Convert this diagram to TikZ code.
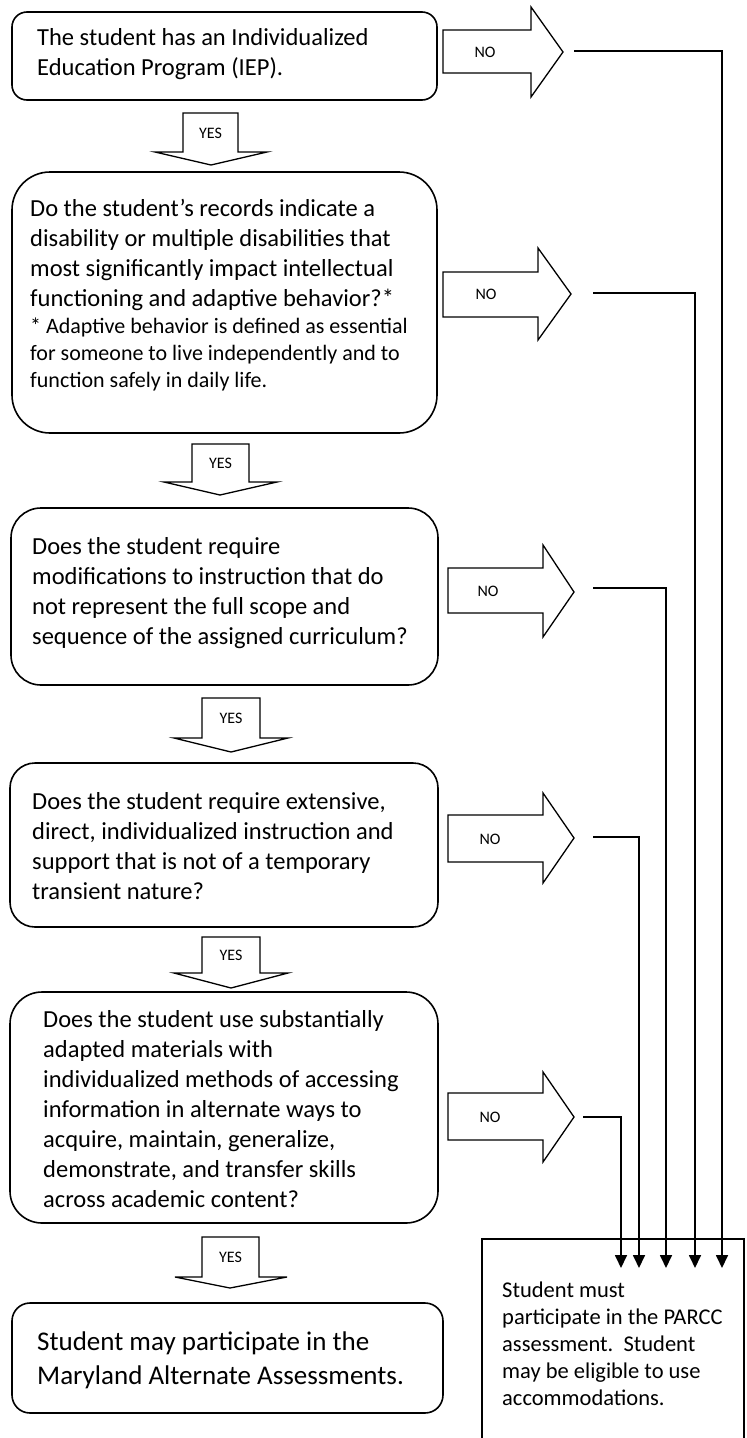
\documentclass[tikz,border=0pt]{standalone}
\usepackage{fontspec}
\setmainfont{Carlito}
\usetikzlibrary{arrows.meta}
\tikzset{
  box/.style={draw, line width=1.6pt, inner sep=0pt},
  qtext/.style={inner sep=0pt, anchor=north west, align=left, font=\fontsize{24.5}{30}\selectfont},
  fnote/.style={inner sep=0pt, anchor=north west, align=left, font=\fontsize{22}{27}\selectfont},
  fat/.style={draw, line width=1.3pt, fill=white, line join=miter},
  lab/.style={inner sep=0pt, font=\fontsize{16}{18}\selectfont},
  conn/.style={line width=1.7pt, -{Triangle[width=12pt,length=13pt]}},
}
\begin{document}
\begin{tikzpicture}[x=1pt,y=-1pt]
\useasboundingbox (0,0) rectangle (747,1438);

% question boxes
\node[box, rounded corners=15pt, minimum width=425pt, minimum height=88pt] (b1) at (224.5,56) {};
\node[box, rounded corners=38pt, minimum width=425pt, minimum height=261pt] (b2) at (224.5,302.5) {};
\node[box, rounded corners=30pt, minimum width=427pt, minimum height=177pt] (b3) at (224.5,596.5) {};
\node[box, rounded corners=25pt, minimum width=428pt, minimum height=164pt] (b4) at (224,845) {};
\node[box, rounded corners=32pt, minimum width=428pt, minimum height=231pt] (b5) at (224,1107.5) {};
\node[box, rounded corners=18pt, minimum width=431pt, minimum height=110pt] (b6) at (227.5,1358) {};
\node[box, line width=1.2pt, minimum width=262pt, minimum height=240pt] (parcc) at (613,1359) {};

% texts
\node[qtext] (t1) at (37,28) {The student has an Individualized\\Education Program (IEP).};
\node[qtext] (t2) at (30,199) {Do the student’s records indicate a\\disability or multiple disabilities that\\most significantly impact intellectual\\functioning and adaptive behavior?*};
\node[fnote] (t2f) at (30,318) {* Adaptive behavior is defined as essential\\for someone to live independently and to\\function safely in daily life.};
\node[qtext] (t3) at (32,537) {Does the student require\\modifications to instruction that do\\not represent the full scope and\\sequence of the assigned curriculum?};
\node[qtext] (t4) at (32,792) {Does the student require extensive,\\direct, individualized instruction and\\support that is not of a temporary\\transient nature?};
\node[qtext] (t5) at (43,1010) {Does the student use substantially\\adapted materials with\\individualized methods of accessing\\information in alternate ways to\\acquire, maintain, generalize,\\demonstrate, and transfer skills\\across academic content?};
\node[inner sep=0pt, anchor=north west, align=left, font=\fontsize{27}{33.5}\selectfont] (t6) at (37,1332) {Student may participate in the\\Maryland Alternate Assessments.};
\node[inner sep=0pt, anchor=north west, align=left, font=\fontsize{22.5}{27}\selectfont] (tp) at (502,1282) {Student must\\participate in the PARCC\\assessment.\ \ Student\\may be eligible to use\\accommodations.};

% NO arrows
\draw[fat] (443,30) -- (531,30) -- (531,7) -- (563,52) -- (531,97) -- (531,73) -- (443,73) -- cycle;
\node[lab] (n1) at (485,52) {NO};
\draw[fat] (443,272) -- (538,272) -- (538,248) -- (571,294) -- (538,340) -- (538,317) -- (443,317) -- cycle;
\node[lab] (n2) at (486,294) {NO};
\draw[fat] (448,568) -- (543,568) -- (543,545) -- (574,592) -- (543,637) -- (543,613) -- (448,613) -- cycle;
\node[lab] (n3) at (488,591) {NO};
\draw[fat] (448,815) -- (543,815) -- (543,793) -- (574,838) -- (543,883) -- (543,862) -- (448,862) -- cycle;
\node[lab] (n4) at (490,839) {NO};
\draw[fat] (448,1093) -- (543,1093) -- (543,1072) -- (574,1117) -- (543,1162) -- (543,1140) -- (448,1140) -- cycle;
\node[lab] (n5) at (490,1117) {NO};

% YES arrows
\draw[fat] (183,113) -- (238,113) -- (238,152) -- (267,152) -- (211,165) -- (155,152) -- (183,152) -- cycle;
\node[lab] (y1) at (210.5,133) {YES};
\draw[fat] (192,444) -- (249,444) -- (249,482) -- (277,482) -- (220,495) -- (164,482) -- (192,482) -- cycle;
\node[lab] (y2) at (220.5,463) {YES};
\draw[fat] (202,698) -- (260,698) -- (260,738) -- (288,738) -- (231,752) -- (174,738) -- (202,738) -- cycle;
\node[lab] (y3) at (231,718) {YES};
\draw[fat] (202,937) -- (260,937) -- (260,973) -- (288,973) -- (231,988) -- (174,973) -- (202,973) -- cycle;
\node[lab] (y4) at (231,955) {YES};
\draw[fat] (202,1237) -- (259,1237) -- (259,1277) -- (287,1277) -- (230,1288) -- (175,1277) -- (202,1277) -- cycle;
\node[lab] (y5) at (230.5,1257) {YES};

% connectors to PARCC box
\coordinate (s1) at (574,51);
\coordinate (s2) at (593,293);
\coordinate (s3) at (593,588);
\coordinate (s4) at (593,837);
\coordinate (s5) at (583,1117);
\coordinate (e1) at (722,1268);
\coordinate (e2) at (695,1268);
\coordinate (e3) at (666,1268);
\coordinate (e4) at (639,1268);
\coordinate (e5) at (621,1268);
\draw[conn] (s1) -| (e1);
\draw[conn] (s2) -| (e2);
\draw[conn] (s3) -| (e3);
\draw[conn] (s4) -| (e4);
\draw[conn] (s5) -| (e5);
\end{tikzpicture}
\end{document}
